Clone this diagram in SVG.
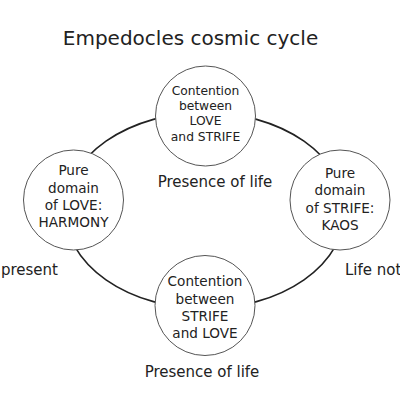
<svg xmlns="http://www.w3.org/2000/svg" width="400" height="400" viewBox="0 0 400 400">
<style>
text{font-family:"DejaVu Sans",sans-serif;fill:#222;text-anchor:middle}
.node{fill:#fff;stroke:#555;stroke-width:1}
.c{font-size:12.3px}
.p{font-size:13.6px}
.l{font-size:15px}
</style>
<rect width="400" height="400" fill="#fff"/>
<text x="190.5" y="45" style="font-size:20px">Empedocles cosmic cycle</text>
<g id="connectors">
<ellipse cx="205" cy="210.5" rx="140" ry="98" fill="none" stroke="#222" stroke-width="1.6"/>
</g>
<g id="top">
<circle class="node" cx="205.5" cy="116" r="50"/>
<text class="c" x="205.5" y="95">Contention</text>
<text class="c" x="205.5" y="110">between</text>
<text class="c" x="205.5" y="125">LOVE</text>
<text class="c" x="205.5" y="140.5">and STRIFE</text>
</g>
<g id="left">
<circle class="node" cx="73.5" cy="200" r="50"/>
<text class="p" x="73.5" y="175">Pure</text>
<text class="p" x="73.5" y="193">domain</text>
<text class="p" x="73.5" y="210">of LOVE:</text>
<text class="p" x="73.5" y="227.3">HARMONY</text>
</g>
<g id="right">
<circle class="node" cx="340" cy="200" r="50"/>
<text class="p" x="340" y="178">Pure</text>
<text class="p" x="340" y="195">domain</text>
<text class="p" x="340" y="212.5">of STRIFE:</text>
<text class="p" x="340" y="230">KAOS</text>
</g>
<g id="bottom">
<circle class="node" cx="205" cy="305.5" r="50"/>
<text class="p" x="205" y="286">Contention</text>
<text class="p" x="205" y="303.5">between</text>
<text class="p" x="205" y="321">STRIFE</text>
<text class="p" x="205" y="338">and LOVE</text>
</g>
<text class="l" x="215" y="187">Presence of life</text>
<text class="l" x="202" y="376.5">Presence of life</text>
<text class="l" x="58" y="275" style="text-anchor:end">present</text>
<text class="l" x="345" y="275" style="text-anchor:start">Life not</text>
</svg>
